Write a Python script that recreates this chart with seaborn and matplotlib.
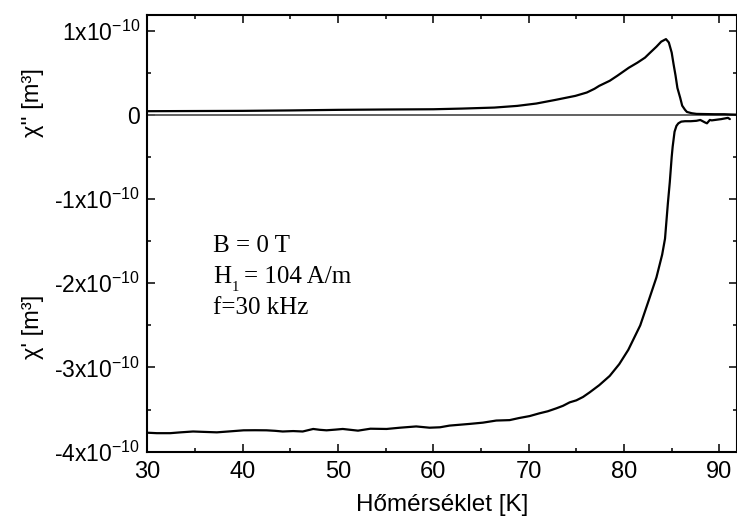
import matplotlib
matplotlib.use("Agg")
import matplotlib.pyplot as plt
from matplotlib.ticker import FuncFormatter, MultipleLocator
import seaborn as sns
import pandas as pd

# ---- data (values in units of 1e-10 m^3) ----
T_chi2 = [30, 35, 40, 45, 50, 55, 60, 63, 66.4, 68.8, 70.8, 72.8, 74.9, 76.1, 76.9, 77.4,
          78.5, 79.3, 80.5, 81.4, 82.2, 82.7, 83.4, 83.9, 84.4, 84.7, 85.0, 85.2, 85.4, 85.6,
          85.9, 86.1, 86.4, 86.6, 87.1, 87.6, 88.5, 89.5, 90.5, 91.2, 91.8]
chi2 = [0.044, 0.046, 0.048, 0.053, 0.06, 0.064, 0.067, 0.075, 0.087, 0.107, 0.135, 0.178,
        0.226, 0.266, 0.31, 0.345, 0.405, 0.465, 0.56, 0.62, 0.68, 0.735, 0.81, 0.87, 0.9,
        0.86, 0.74, 0.6, 0.47, 0.32, 0.2, 0.11, 0.06, 0.035, 0.02, 0.012, 0.01, 0.008,
        0.008, 0.005, 0.003]

T_chi1 = [30.1, 31, 32.4, 33.5, 34.8, 36, 37.3, 38.5, 40.1, 41.3, 42.5, 43.4, 44.2, 45.3,
          46.3, 47.4, 48.1, 48.8, 49.7, 50.5, 51.3, 52.1, 53.4, 55.1, 56.5, 58.2, 59.6, 60.7,
          61.7, 63.8, 65.2, 66.6, 68, 69, 70.1, 71.1, 72.0, 72.9, 73.6, 74.3, 75.0, 75.7,
          76.4, 77.4, 78.5, 79.5, 80.45, 81.7, 82.6, 83.4, 84.0, 84.3, 84.6, 84.8,
          85.0, 85.1, 85.3, 85.5, 85.7, 86.0, 86.4, 87.0, 87.6, 88.0, 88.5, 88.7, 89.0, 89.2,
          90.2, 90.9, 91.1]
chi1 = [-3.775, -3.78, -3.78, -3.77, -3.76, -3.765, -3.77, -3.76, -3.746, -3.745, -3.746,
        -3.752, -3.76, -3.755, -3.76, -3.73, -3.74, -3.746, -3.738, -3.73, -3.74, -3.75,
        -3.727, -3.73, -3.715, -3.70, -3.715, -3.71, -3.69, -3.67, -3.655, -3.63, -3.625,
        -3.60, -3.577, -3.545, -3.52, -3.485, -3.455, -3.414, -3.39, -3.35, -3.295, -3.21,
        -3.10, -2.96, -2.79, -2.5, -2.2, -1.93, -1.66, -1.47, -1.05, -0.8,
        -0.5, -0.38, -0.2, -0.13, -0.1, -0.08, -0.075, -0.075, -0.07, -0.06, -0.09, -0.10,
        -0.06, -0.065, -0.05, -0.035, -0.05]

x_ticks = [30, 40, 50, 60, 70, 80, 90]
y_ticks = [-4, -3, -2, -1, 0, 1]
annot_lines = ["B = 0 T", "H", "1", "= 104 A/m", "f=30 kHz"]

SCALE = 1e-10
df2 = pd.DataFrame({"T": T_chi2, "v": [v * SCALE for v in chi2]})
df1 = pd.DataFrame({"T": T_chi1, "v": [v * SCALE for v in chi1]})

sns.set_theme(style="ticks")
plt.rcParams["font.family"] = ["Liberation Sans", "DejaVu Sans"]
plt.rcParams["text.color"] = "black"
plt.rcParams["mathtext.fontset"] = "custom"
plt.rcParams["mathtext.rm"] = "Liberation Sans"
plt.rcParams["mathtext.it"] = "Liberation Sans:italic"
plt.rcParams["mathtext.bf"] = "Liberation Sans:bold"

W, H = 737, 527
fig = plt.figure(figsize=(W / 100, H / 100), dpi=100)
ax = fig.add_axes([147.3 / W, 1 - 451.7 / H, (W - 147.3) / W, (451.7 - 14.7) / H])

ax.axhline(0, color="#555555", lw=1.3, zorder=1)
sns.lineplot(data=df2, x="T", y="v", ax=ax, color="black", lw=1.6, sort=False, estimator=None)
sns.lineplot(data=df1, x="T", y="v", ax=ax, color="black", lw=1.6, sort=False, estimator=None)

ax.set_xlim(30, 91.85)
ax.set_ylim(-4e-10, 1.19e-10)
ax.set_xticks(x_ticks)
ax.set_yticks([v * SCALE for v in y_ticks])
ax.xaxis.set_minor_locator(MultipleLocator(5))
ax.yaxis.set_minor_locator(MultipleLocator(0.5e-10))


def yfmt(v, pos):
    m = int(round(v / SCALE))
    if m == 0:
        return "0"
    return f"{m}x10$^{{-10}}$"


ax.yaxis.set_major_formatter(FuncFormatter(yfmt))
ax.tick_params(which="both", direction="in", top=True, right=True, width=1.1, colors="black",
               labelcolor="black")
ax.tick_params(axis="x", labelsize=17, pad=7)
ax.tick_params(axis="y", labelsize=16.5, pad=5)
ax.tick_params(which="major", length=6)
ax.tick_params(which="minor", length=3)
for s in ax.spines.values():
    s.set_linewidth(1.5)
    s.set_color("black")
ax.set_xlabel("")
ax.set_ylabel("")

fig.text((147.3 + W) / 2 / W, 1 - 505 / H, "Hőmérséklet [K]", ha="center", va="center",
         fontsize=17.5, color="black")
fig.text(33 / W, 1 - 103 / H, "χ'' [m³]", rotation=90, ha="center", va="center", fontsize=17,
         color="black")
fig.text(33 / W, 1 - 327 / H, "χ' [m³]", rotation=90, ha="center", va="center", fontsize=17,
         color="black")

serif = ["Liberation Serif", "DejaVu Serif"]
fs = 18
fig.text(213 / W, 1 - 252 / H, annot_lines[0], family=serif, fontsize=fs, va="baseline")
fig.text(213 / W, 1 - 283 / H, annot_lines[1], family=serif, fontsize=fs, va="baseline")
fig.text(232 / W, 1 - 291 / H, annot_lines[2], family=serif, fontsize=10.5, va="baseline")
fig.text(244 / W, 1 - 283 / H, annot_lines[3], family=serif, fontsize=fs, va="baseline")
fig.text(213 / W, 1 - 314 / H, annot_lines[4], family=serif, fontsize=fs, va="baseline")

fig.savefig("out.png", dpi=100)
